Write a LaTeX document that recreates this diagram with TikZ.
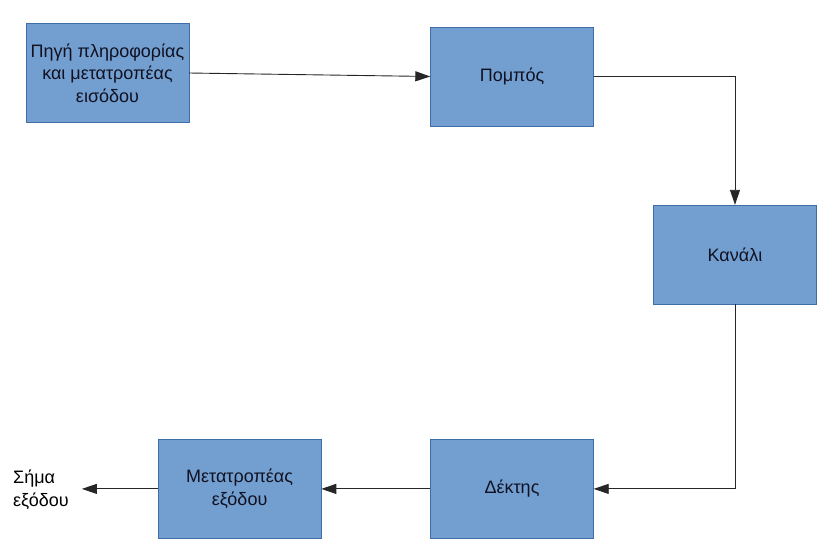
\documentclass[tikz,border=0pt]{standalone}
\usepackage{fontspec}
\setmainfont{Liberation Sans}
\usetikzlibrary{arrows.meta, positioning}
\definecolor{boxfill}{HTML}{729FCF}
\definecolor{boxedge}{HTML}{3F6DA8}
\definecolor{txtcol}{HTML}{111122}
\tikzset{
  block/.style={rectangle, minimum width=163pt, minimum height=99pt, inner sep=0pt, draw=boxedge, fill=boxfill, align=center, text=txtcol, font=\fontsize{18}{22.5}\selectfont},
  arrow/.style={-{Triangle[length=15pt, width=10pt]}, draw=black!85, line width=0.9pt},
}
\begin{document}
\begin{tikzpicture}[x=1pt, y=-1pt]

  \useasboundingbox (0,0) rectangle (828,558);

  % ---- Top row ----
  \node (src) [block] at (107.5,73) {Πηγή πληροφορίας\\και μετατροπέας\\εισόδου};
  \node (tx) [block] at (512,76.5) {Πομπός};

  % ---- Channel ----
  \node (chan) [block] at (735,254.5) {Κανάλι};

  % ---- Bottom row ----
  \node (rx) [block, below=313pt of tx] {Δέκτης};
  \node (conv) [block, left=109pt of rx] {Μετατροπέας\\εξόδου};
  \node (out) [anchor=west, inner sep=0pt, align=left, text=black, font=\fontsize{18}{22.5}\selectfont] at (13,490) {Σήμα\\εξόδου};
  \coordinate (outtip) at ([xshift=13pt]out.east);

  % ---- Arrows ----
  \draw [arrow] (src.east) -- (tx.west);
  \draw [arrow] (tx.east) -| (chan.north);
  \draw [arrow] (chan.south) |- (rx.east);
  \draw [arrow] (rx.west) -- (conv.east);
  \draw [arrow] (conv.west) -- (outtip |- conv.west);

\end{tikzpicture}
\end{document}
